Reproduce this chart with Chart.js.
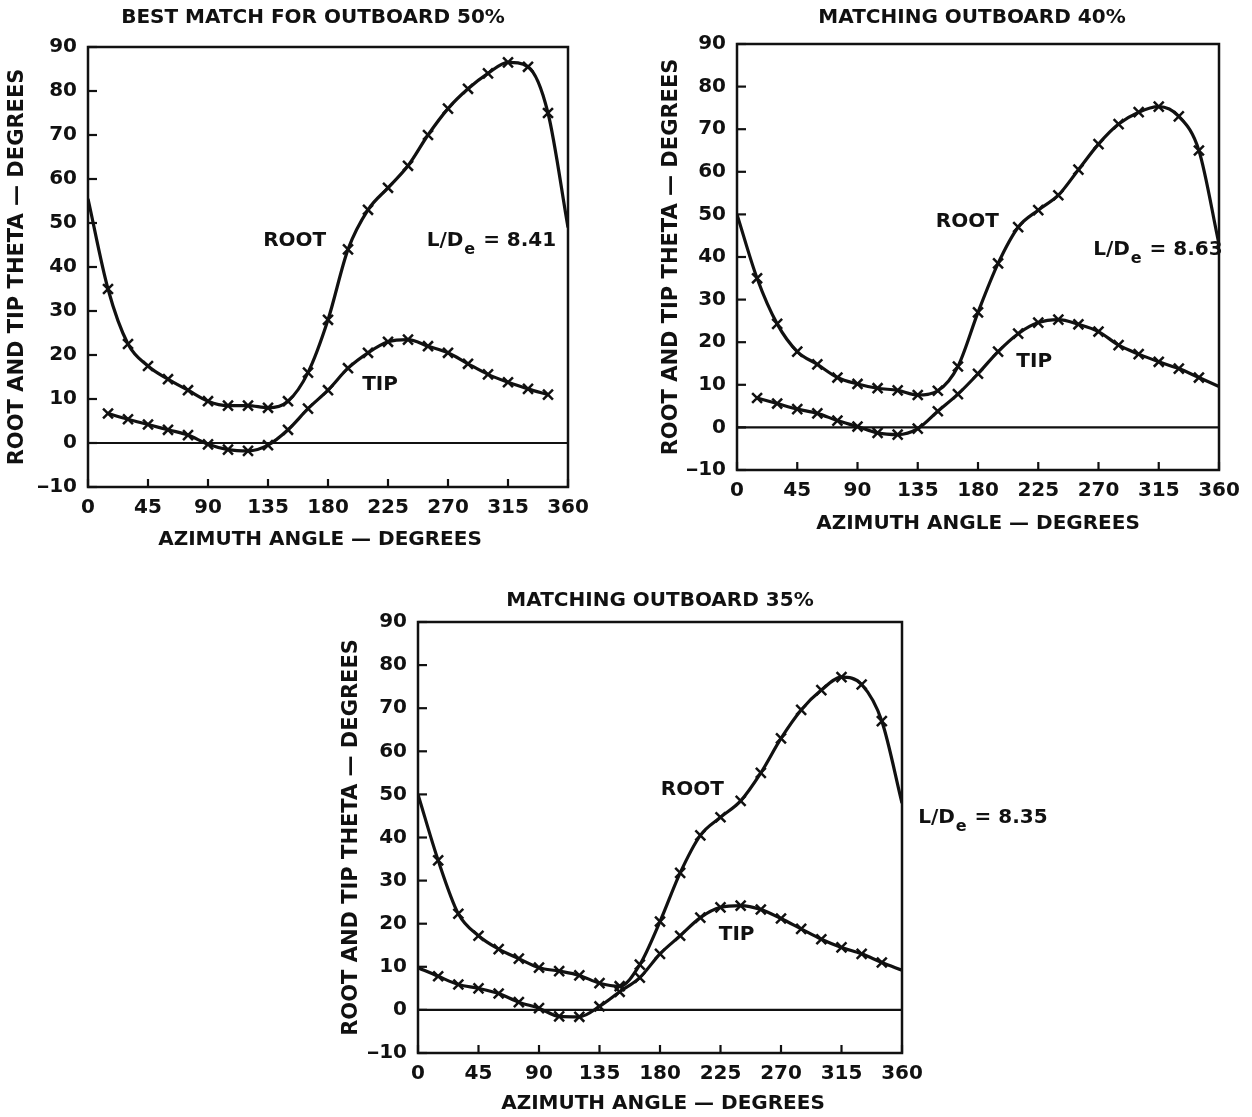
<!DOCTYPE html>
<html>
<head>
<meta charset="utf-8">
<title>Root and tip theta vs azimuth</title>
<script src="https://cdn.jsdelivr.net/npm/chart.js@4.4.1/dist/chart.umd.min.js"></script>
<style>
  body { margin: 0; background: #fff; }
  #page { position: relative; width: 1252px; height: 1117px; overflow: hidden; background: #fff; }
  canvas { position: absolute; }
</style>
</head>
<body>
<div id="page">
  <canvas id="c50" width="600" height="560" style="left:0px;top:0px"></canvas>
  <canvas id="c40" width="612" height="560" style="left:640px;top:0px"></canvas>
  <canvas id="c35" width="740" height="537" style="left:330px;top:580px"></canvas>
</div>
<script>
// azimuth stations, every 15 degrees
var angles = [0, 15, 30, 45, 60, 75, 90, 105, 120, 135, 150, 165, 180,
              195, 210, 225, 240, 255, 270, 285, 300, 315, 330, 345, 360];

// outboard 50%
var root50 = [55.5, 35, 22.5, 17.5, 14.5, 12, 9.5, 8.5, 8.5, 8, 9.5, 16, 28,
              44, 53, 58, 63, 70, 76, 80.5, 84, 86.5, 85.5, 75, 49];
var tip50  = [null, 6.7, 5.4, 4.2, 3.0, 1.8, -0.3, -1.5, -1.8, -0.5, 3, 7.8, 12,
              17, 20.5, 23, 23.5, 22, 20.5, 18, 15.6, 13.8, 12.3, 11, null];

// outboard 40%
var root40 = [50, 35, 24.3, 17.8, 14.8, 11.7, 10.2, 9.2, 8.7, 7.6, 8.6, 14.3, 27,
              38.5, 47, 51, 54.5, 60.5, 66.5, 71.2, 74, 75.3, 73, 65, 43];
var tip40  = [null, 6.9, 5.6, 4.3, 3.3, 1.6, 0.2, -1.3, -1.7, -0.3, 3.8, 7.8, 12.6,
              17.8, 22, 24.6, 25.3, 24.2, 22.5, 19.3, 17.2, 15.4, 13.8, 11.7, 9.6];

// outboard 35%
var root35 = [50, 34.7, 22.3, 17.2, 14.1, 11.9, 9.8, 9, 8, 6.2, 5.5, 10.5, 20.5,
              31.8, 40.5, 44.7, 48.5, 55, 63, 69.6, 74.2, 77.2, 75.5, 67, 48];
var tip35  = [9.8, 7.8, 5.9, 5.0, 3.8, 1.8, 0.4, -1.5, -1.6, 0.8, 4.2, 7.5, 13,
              17.2, 21.4, 23.8, 24.2, 23.3, 21.2, 18.8, 16.4, 14.5, 13, 11, 9.2];

var xTicks = [0, 45, 90, 135, 180, 225, 270, 315, 360];
var yTicks = [-10, 0, 10, 20, 30, 40, 50, 60, 70, 80, 90];

var FONT = '"DejaVu Sans", sans-serif';
var INK = '#111';

function series(vals) {
  return angles.map(function (a, i) { return { x: a, y: vals[i] }; });
}

function curve(vals) {
  var last = angles.length - 1;
  return {
    data: series(vals),
    borderColor: INK,
    borderWidth: 3.2,
    cubicInterpolationMode: 'monotone',
    pointStyle: 'crossRot',
    pointRadius: function (c) { return (c.dataIndex === 0 || c.dataIndex === last) ? 0 : 7; },
    pointBorderWidth: 2.5,
    pointBorderColor: INK,
    pointBackgroundColor: INK
  };
}

function seg(ctx, x1, y1, x2, y2) {
  ctx.beginPath();
  ctx.moveTo(x1, y1);
  ctx.lineTo(x2, y2);
  ctx.stroke();
}

// frame, inward ticks, zero line and all the lettering
var decor = {
  id: 'decor',
  beforeDatasetsDraw: function (chart) {
    var ctx = chart.ctx, a = chart.chartArea, y = chart.scales.y;
    ctx.save();
    ctx.strokeStyle = INK;
    ctx.lineWidth = 2.2;
    var z = y.getPixelForValue(0);
    seg(ctx, a.left, z, a.right, z);
    ctx.restore();
  },
  afterDatasetsDraw: function (chart, args, o) {
    var ctx = chart.ctx, a = chart.chartArea, x = chart.scales.x, y = chart.scales.y;
    ctx.save();
    ctx.strokeStyle = INK;
    ctx.fillStyle = INK;
    ctx.lineWidth = 2.5;
    ctx.strokeRect(a.left, a.top, a.right - a.left, a.bottom - a.top);
    ctx.lineWidth = 2.2;
    yTicks.forEach(function (v) {
      var py = y.getPixelForValue(v);
      seg(ctx, a.left, py, a.left + 9, py);
    });
    xTicks.forEach(function (v) {
      var px = x.getPixelForValue(v);
      seg(ctx, px, a.bottom, px, a.bottom - 8);
    });

    var cx = (a.left + a.right) / 2, cy = (a.top + a.bottom) / 2;
    ctx.font = 'bold 20px ' + FONT;
    ctx.textAlign = 'center';
    ctx.textBaseline = 'middle';
    ctx.fillText(o.title, cx + o.titleDx, a.top - o.titleGap);
    ctx.fillText('AZIMUTH ANGLE \u2014 DEGREES', cx + o.axisDx, a.bottom + o.axisGap);

    ctx.save();
    ctx.font = 'bold 21px ' + FONT;
    ctx.translate(a.left - o.yTitleGap, cy);
    ctx.rotate(-Math.PI / 2);
    ctx.fillText('ROOT AND TIP THETA \u2014 DEGREES', 0, 0);
    ctx.restore();

    o.notes.forEach(function (n) {
      ctx.fillText(n.text, x.getPixelForValue(n.x), y.getPixelForValue(n.y));
    });

    // L/D with subscript e
    var px = x.getPixelForValue(o.ratio.x), py = y.getPixelForValue(o.ratio.y);
    ctx.textAlign = 'left';
    ctx.fillText('L/D', px, py);
    var w = ctx.measureText('L/D').width;
    ctx.font = 'bold 16px ' + FONT;
    ctx.fillText('e', px + w + 1, py + 9);
    w += ctx.measureText('e').width + 2;
    ctx.font = 'bold 20px ' + FONT;
    ctx.fillText(' = ' + o.ratio.value, px + w, py);
    ctx.restore();
  }
};

function makeChart(id, rootVals, tipVals, pad, deco) {
  return new Chart(document.getElementById(id), {
    type: 'line',
    data: { datasets: [curve(rootVals), curve(tipVals)] },
    plugins: [decor],
    options: {
      responsive: false,
      animation: false,
      events: [],
      layout: { padding: pad },
      scales: {
        x: {
          type: 'linear', min: 0, max: 360,
          afterFit: function (s) { s.height = 30; },
          afterBuildTicks: function (s) { s.ticks = xTicks.map(function (v) { return { value: v }; }); },
          grid: { display: false },
          border: { display: false },
          ticks: { color: INK, padding: 1, maxRotation: 0, font: { family: FONT, size: 20, weight: 'bold' } }
        },
        y: {
          type: 'linear', min: -10, max: 90,
          afterFit: function (s) { s.width = 50; },
          afterBuildTicks: function (s) { s.ticks = yTicks.map(function (v) { return { value: v }; }); },
          grid: { display: false },
          border: { display: false },
          ticks: {
            color: INK, padding: 3,
            font: { family: FONT, size: 20, weight: 'bold' },
            callback: function (v) { return v < 0 ? '\u2014' + Math.abs(v) : String(v); }
          }
        }
      },
      plugins: {
        legend: { display: false },
        tooltip: { enabled: false },
        decor: deco
      }
    }
  });
}

makeChart('c50', root50, tip50,
  { left: 38, top: 47, right: 32, bottom: 43 },
  {
    title: 'BEST MATCH FOR OUTBOARD 50%', titleDx: -15, titleGap: 29,
    axisDx: -8, axisGap: 53, yTitleGap: 70,
    notes: [{ text: 'ROOT', x: 155, y: 46 }, { text: 'TIP', x: 219, y: 13.2 }],
    ratio: { value: '8.41', x: 254, y: 46 }
  });

makeChart('c40', root40, tip40,
  { left: 47, top: 44, right: 33, bottom: 60 },
  {
    title: 'MATCHING OUTBOARD 40%', titleDx: -6, titleGap: 26,
    axisDx: 0, axisGap: 54, yTitleGap: 65,
    notes: [{ text: 'ROOT', x: 172, y: 48.2 }, { text: 'TIP', x: 222, y: 15.4 }],
    ratio: { value: '8.63', x: 266, y: 41.6 }
  });

makeChart('c35', root35, tip35,
  { left: 38, top: 42, right: 168, bottom: 34 },
  {
    title: 'MATCHING OUTBOARD 35%', titleDx: 0, titleGap: 21,
    axisDx: 3, axisGap: 51, yTitleGap: 66,
    notes: [{ text: 'ROOT', x: 204, y: 51 }, { text: 'TIP', x: 237, y: 17.4 }],
    ratio: { value: '8.35', x: 372, y: 44.5 }
  });
</script>
</body>
</html>
